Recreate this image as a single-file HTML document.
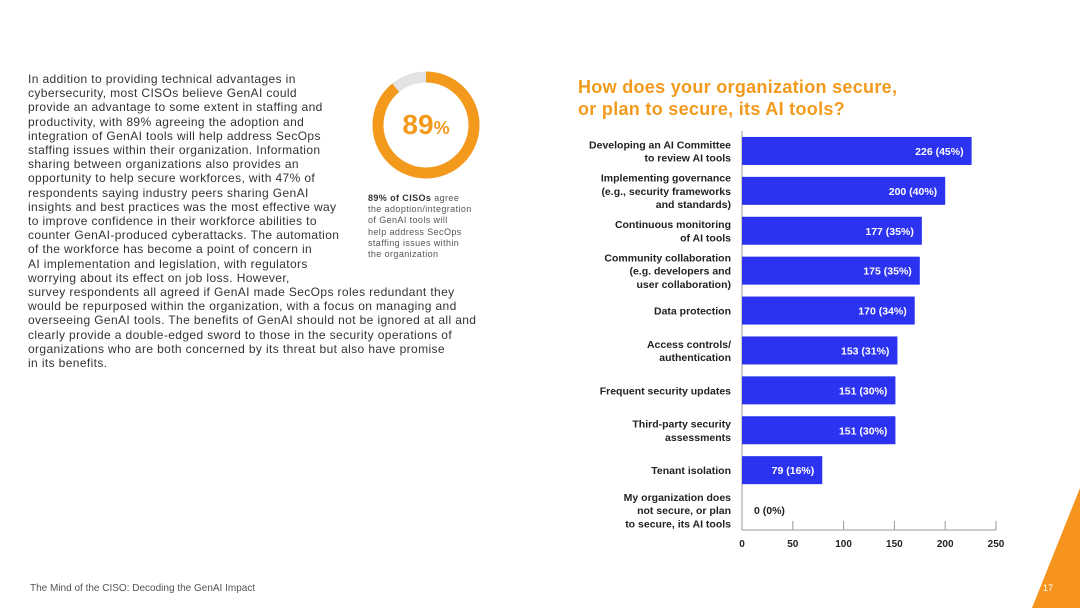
<!DOCTYPE html>
<html><head><meta charset="utf-8"><style>
body{margin:0;width:1080px;height:608px;background:#fff;position:relative;overflow:hidden;font-family:"Liberation Sans",sans-serif;}
.body-text{position:absolute;left:28px;top:72px;font-size:12px;letter-spacing:0.38px;line-height:14.2px;color:#333;white-space:pre;}
.caption{position:absolute;left:368px;top:193px;font-size:9px;letter-spacing:0.4px;line-height:11.2px;color:#555;white-space:pre;}
.title{position:absolute;left:578px;top:76px;font-size:18px;letter-spacing:0.3px;line-height:22px;font-weight:bold;color:#f39a1d;}
</style></head><body>
<div class="body-text">In addition to providing technical advantages in
cybersecurity, most CISOs believe GenAI could
provide an advantage to some extent in staffing and
productivity, with 89% agreeing the adoption and
integration of GenAI tools will help address SecOps
staffing issues within their organization. Information
sharing between organizations also provides an
opportunity to help secure workforces, with 47% of
respondents saying industry peers sharing GenAI
insights and best practices was the most effective way
to improve confidence in their workforce abilities to
counter GenAI-produced cyberattacks. The automation
of the workforce has become a point of concern in
AI implementation and legislation, with regulators
worrying about its effect on job loss. However,
survey respondents all agreed if GenAI made SecOps roles redundant they
would be repurposed within the organization, with a focus on managing and
overseeing GenAI tools. The benefits of GenAI should not be ignored at all and
clearly provide a double-edged sword to those in the security operations of
organizations who are both concerned by its threat but also have promise
in its benefits.</div>
<svg style="position:absolute;left:0;top:0" width="1080" height="608">
<circle cx="426" cy="125" r="48" fill="none" stroke="#e3e3e3" stroke-width="11"/>
<circle cx="426" cy="125" r="48" fill="none" stroke="#f39a1d" stroke-width="11" stroke-dasharray="268.4 400" transform="rotate(-90 426 125)"/>
<text x="426" y="134" text-anchor="middle" font-family="Liberation Sans" font-weight="bold" font-size="28" fill="#f39a1d">89<tspan font-size="18">%</tspan></text>
<polygon points="1080,488 1080,608 1032,608" fill="#f7941d"/>
<text x="1043" y="591" font-size="9" fill="#fff" font-family="Liberation Sans">17</text>
<text x="30" y="591" font-size="10" fill="#555" font-family="Liberation Sans">The Mind of the CISO: Decoding the GenAI Impact</text>
</svg>
<div class="caption"><b style="color:#333">89% of CISOs</b> agree
the adoption/integration
of GenAI tools will
help address SecOps
staffing issues within
the organization</div>
<div class="title">How does your organization secure,<br>or plan to secure, its AI tools?</div>
<svg id="chart" style="position:absolute;left:0;top:0" width="1080" height="608"></svg>
<script>
const categories=[["Developing an AI Committee","to review AI tools"],["Implementing governance","(e.g., security frameworks","and standards)"],["Continuous monitoring","of AI tools"],["Community collaboration","(e.g. developers and","user collaboration)"],["Data protection"],["Access controls/","authentication"],["Frequent security updates"],["Third-party security","assessments"],["Tenant isolation"],["My organization does","not secure, or plan","to secure, its AI tools"]];
const values=[226,200,177,175,170,153,151,151,79,0];
const percents=["45%","40%","35%","35%","34%","31%","30%","30%","16%","0%"];
const ticks=[0,50,100,150,200,250];
const svg=document.getElementById('chart');const NS='http://www.w3.org/2000/svg';
const x0=742,x1=996,maxV=250,top0=131,rowH=39.9,base=530;
const xs=v=>x0+(v/maxV)*(x1-x0);
const cy=i=>top0+rowH*(i+0.5);
function mk(t,a,txt){const e=document.createElementNS(NS,t);for(const k in a)e.setAttribute(k,a[k]);if(txt!=null)e.textContent=txt;svg.appendChild(e);return e;}
let ax=mk('line',{x1:x0,y1:top0,x2:x0,y2:base,stroke:'#999','stroke-width':1});


let bx=mk('line',{x1:x0,y1:base,x2:x1,y2:base,stroke:'#999','stroke-width':1});


ticks.forEach(t=>{
 let l=mk('line',{x1:xs(t),y1:base-9,x2:xs(t),y2:base,stroke:'#999'});
 
 
 let tx=mk('text',{x:xs(t),y:base+17,'text-anchor':'middle','font-size':10,'font-weight':'bold',fill:'#222'},String(t));
 
 
});
values.forEach((v,i)=>{
 const c=cy(i);
 if(v>0){let r=mk('rect',{x:x0,y:c-14,width:xs(v)-x0,height:28,fill:'#2b32f0'});
 
 }
 const lab=v+' ('+percents[i]+')';
 let t=mk('text',{x:v>40?xs(v)-8:xs(v)+12,y:c+4,'text-anchor':v>40?'end':'start','font-size':10.5,'font-weight':'bold',fill:v>40?'#fff':'#222'},lab);
 
 
 const lines=categories[i];const lh=13.3;
 lines.forEach((s,j)=>{
  let ct=mk('text',{x:731,y:c+4+(j-(lines.length-1)/2)*lh,'text-anchor':'end','font-size':10.5,'font-weight':'bold',fill:'#222'},s);
  
  
 });
});
</script>
</body></html>
